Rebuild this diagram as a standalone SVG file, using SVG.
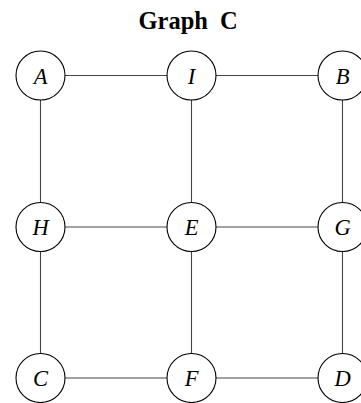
<svg xmlns="http://www.w3.org/2000/svg" width="361" height="403" viewBox="0 0 361 403">
<style>
.edge{stroke:#444;stroke-width:1.1;fill:none}
.node circle{fill:#fff;stroke:#000;stroke-width:1.1}
.node text{font-family:"Liberation Serif",serif;font-style:italic;font-size:22.5px;text-anchor:middle;fill:#000}
.title{font-family:"Liberation Serif",serif;font-weight:bold;font-size:24.5px;fill:#000}
</style>
<rect width="361" height="403" fill="#fff"/>
<text class="title" x="138.5" y="28.5" word-spacing="6">Graph C</text>
<g id="edges">
<line class="edge" x1="40.5" y1="75.5" x2="342.5" y2="75.5"/>
<line class="edge" x1="40.5" y1="227" x2="342.5" y2="227"/>
<line class="edge" x1="40.5" y1="378" x2="342.5" y2="378"/>
<line class="edge" x1="40.5" y1="75.5" x2="40.5" y2="378"/>
<line class="edge" x1="191.5" y1="75.5" x2="191.5" y2="378"/>
<line class="edge" x1="342.5" y1="75.5" x2="342.5" y2="378"/>
</g>
<g id="A" class="node"><circle cx="40.5" cy="75.5" r="24.5"/><text x="40.5" y="83.5">A</text></g>
<g id="I" class="node"><circle cx="191.5" cy="75.5" r="24.5"/><text x="191.5" y="83.5">I</text></g>
<g id="B" class="node"><circle cx="342.5" cy="75.5" r="24.5"/><text x="342.5" y="83.5">B</text></g>
<g id="H" class="node"><circle cx="40.5" cy="227" r="24.5"/><text x="40.5" y="235">H</text></g>
<g id="E" class="node"><circle cx="191.5" cy="227" r="24.5"/><text x="191.5" y="235">E</text></g>
<g id="G" class="node"><circle cx="342.5" cy="227" r="24.5"/><text x="342.5" y="235">G</text></g>
<g id="C" class="node"><circle cx="40.5" cy="378" r="24.5"/><text x="40.5" y="386">C</text></g>
<g id="F" class="node"><circle cx="191.5" cy="378" r="24.5"/><text x="191.5" y="386">F</text></g>
<g id="D" class="node"><circle cx="342.5" cy="378" r="24.5"/><text x="342.5" y="386">D</text></g>
</svg>
